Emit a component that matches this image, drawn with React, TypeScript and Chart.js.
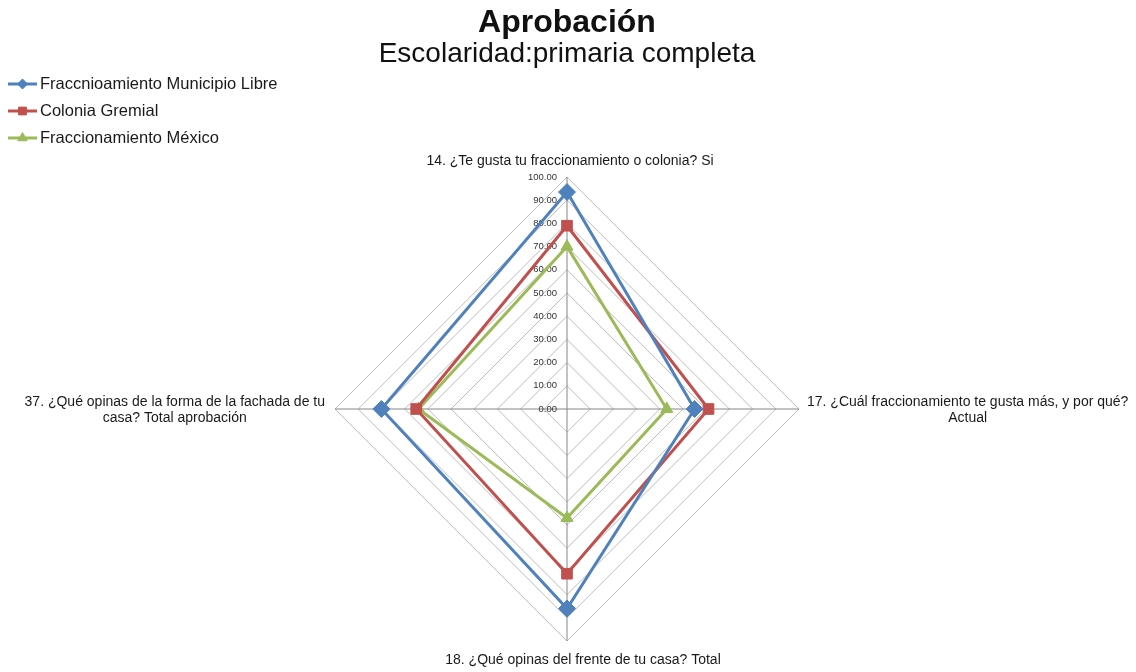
import React, { useEffect, useRef } from 'react';
import { Chart, registerables } from 'chart.js';
import { drawPoint } from 'chart.js/helpers';

Chart.register(...registerables);

const FONT = '"Liberation Sans", Arial, Helvetica, sans-serif';

const chartTitle = 'Aprobación';
const chartSubtitle = 'Escolaridad:primaria completa';

const categories: string[][] = [
  ['14. ¿Te gusta tu fraccionamiento o colonia? Si'],
  ['17. ¿Cuál fraccionamiento te gusta más, y por qué?', 'Actual'],
  ['18. ¿Qué opinas del frente de tu casa? Total'],
  ['37. ¿Qué opinas de la forma de la fachada de tu', 'casa? Total aprobación'],
];

const seriesNames = ['Fraccnioamiento Municipio Libre', 'Colonia Gremial', 'Fraccionamiento México'];
const municipioLibre = [93.5, 55, 86, 80];
const coloniaGremial = [79, 61, 71, 65];
const fraccMexico = [70, 43, 47, 64];

const axisMin = 0;
const axisMax = 100;
const axisStep = 10;

const colors = ['#4F81BD', '#C0504D', '#9BBB59'];
const pointStyles = ['rectRot', 'rect', 'triangle'];
const pointSizes = [8.5, 7.5, 7];
const legendPointSizes = [5, 5.5, 5.5];

const tickLabelPlugin = {
  id: 'tickLabels',
  beforeDatasetsDraw(chart: any) {
    const scale = chart.scales.r;
    const ctx = chart.ctx;
    ctx.save();
    ctx.font = `9.5px ${FONT}`;
    ctx.fillStyle = '#333333';
    ctx.textAlign = 'right';
    ctx.textBaseline = 'middle';
    scale.ticks.forEach((t: any) => {
      const d = scale.getDistanceFromCenterForValue(t.value);
      ctx.fillText(Number(t.value).toFixed(2), scale.xCenter - 10, scale.yCenter - d);
    });
    ctx.restore();
  },
};

const labelsAndLegendPlugin = {
  id: 'labelsAndLegend',
  afterDraw(chart: any) {
    const scale = chart.scales.r;
    const ctx = chart.ctx;
    ctx.save();
    // point labels
    const lh = 16;
    ctx.font = `14px ${FONT}`;
    ctx.fillStyle = '#1a1a1a';
    ctx.textBaseline = 'middle';
    ctx.textAlign = 'center';
    categories.forEach((lines, i) => {
      const p = scale.getPointPosition(i, scale.drawingArea);
      const widths = lines.map((l) => ctx.measureText(l).width);
      const maxW = Math.max(...widths);
      const n = lines.length;
      let cx = p.x;
      let firstY = p.y;
      if (i === 0) {
        cx = p.x + 3;
        firstY = p.y - 16 - (n - 1) * lh;
      } else if (i === 1) {
        cx = p.x + 8 + maxW / 2;
        firstY = p.y + 1 - ((n - 1) * lh) / 2;
      } else if (i === 2) {
        cx = p.x + 16;
        firstY = p.y + 19;
      } else {
        cx = p.x - 10 - maxW / 2;
        firstY = p.y + 1 - ((n - 1) * lh) / 2;
      }
      lines.forEach((l, k) => ctx.fillText(l, cx, firstY + k * lh));
    });

    // legend
    ctx.font = `16.5px ${FONT}`;
    ctx.textAlign = 'left';
    chart.data.datasets.forEach((ds: any, i: number) => {
      const y = 84 + i * 27;
      ctx.strokeStyle = ds.borderColor;
      ctx.lineWidth = 3;
      ctx.beginPath();
      ctx.moveTo(8, y);
      ctx.lineTo(37, y);
      ctx.stroke();
      ctx.fillStyle = ds.borderColor;
      ctx.lineWidth = 1;
      drawPoint(ctx, { pointStyle: ds.pointStyle, radius: legendPointSizes[i], borderWidth: 1, rotation: 0 } as any, 22.5, y);
      ctx.fillStyle = '#1a1a1a';
      ctx.fillText(ds.label, 40, y);
    });
    ctx.restore();
  },
};

export default function App() {
  const ref = useRef<HTMLCanvasElement | null>(null);
  useEffect(() => {
    if (!ref.current) return;
    const seriesData = [municipioLibre, coloniaGremial, fraccMexico];
    const chart = new Chart(ref.current, {
      type: 'radar',
      data: {
        labels: categories,
        datasets: seriesData.map((d, i) => ({
          label: seriesNames[i],
          data: d,
          borderColor: colors[i],
          backgroundColor: colors[i],
          borderWidth: 3,
          fill: false,
          tension: 0,
          pointStyle: pointStyles[i],
          pointRadius: pointSizes[i],
          pointBorderWidth: 1,
          pointBackgroundColor: colors[i],
          pointBorderColor: colors[i],
        })),
      },
      options: {
        responsive: false,
        animation: false,
        layout: { padding: { left: 335, right: 337, top: 0, bottom: 10 } },
        plugins: {
          legend: { display: false },
          tooltip: { enabled: false },
          title: {
            display: true,
            text: chartTitle,
            color: '#111',
            font: { family: FONT, size: 32, weight: 'bold', lineHeight: 1 },
            padding: { top: 7, bottom: 0 },
          },
          subtitle: {
            display: true,
            text: chartSubtitle,
            color: '#111',
            font: { family: FONT, size: 28, weight: 'normal', lineHeight: 1 },
            padding: { top: 1, bottom: 88 },
          },
        },
        scales: {
          r: {
            min: axisMin,
            max: axisMax,
            ticks: { display: false, stepSize: axisStep },
            pointLabels: { display: false },
            grid: { color: '#bdbdbd', lineWidth: 1 },
            angleLines: { color: '#868686', lineWidth: 1 },
          },
        },
      } as any,
      plugins: [tickLabelPlugin, labelsAndLegendPlugin],
    });
    return () => chart.destroy();
  }, []);
  return (
    <div style={{ position: 'absolute', left: 0, top: 0, width: 1136, height: 672, background: '#fff' }}>
      <canvas ref={ref} width={1136} height={672} style={{ display: 'block' }} />
    </div>
  );
}
